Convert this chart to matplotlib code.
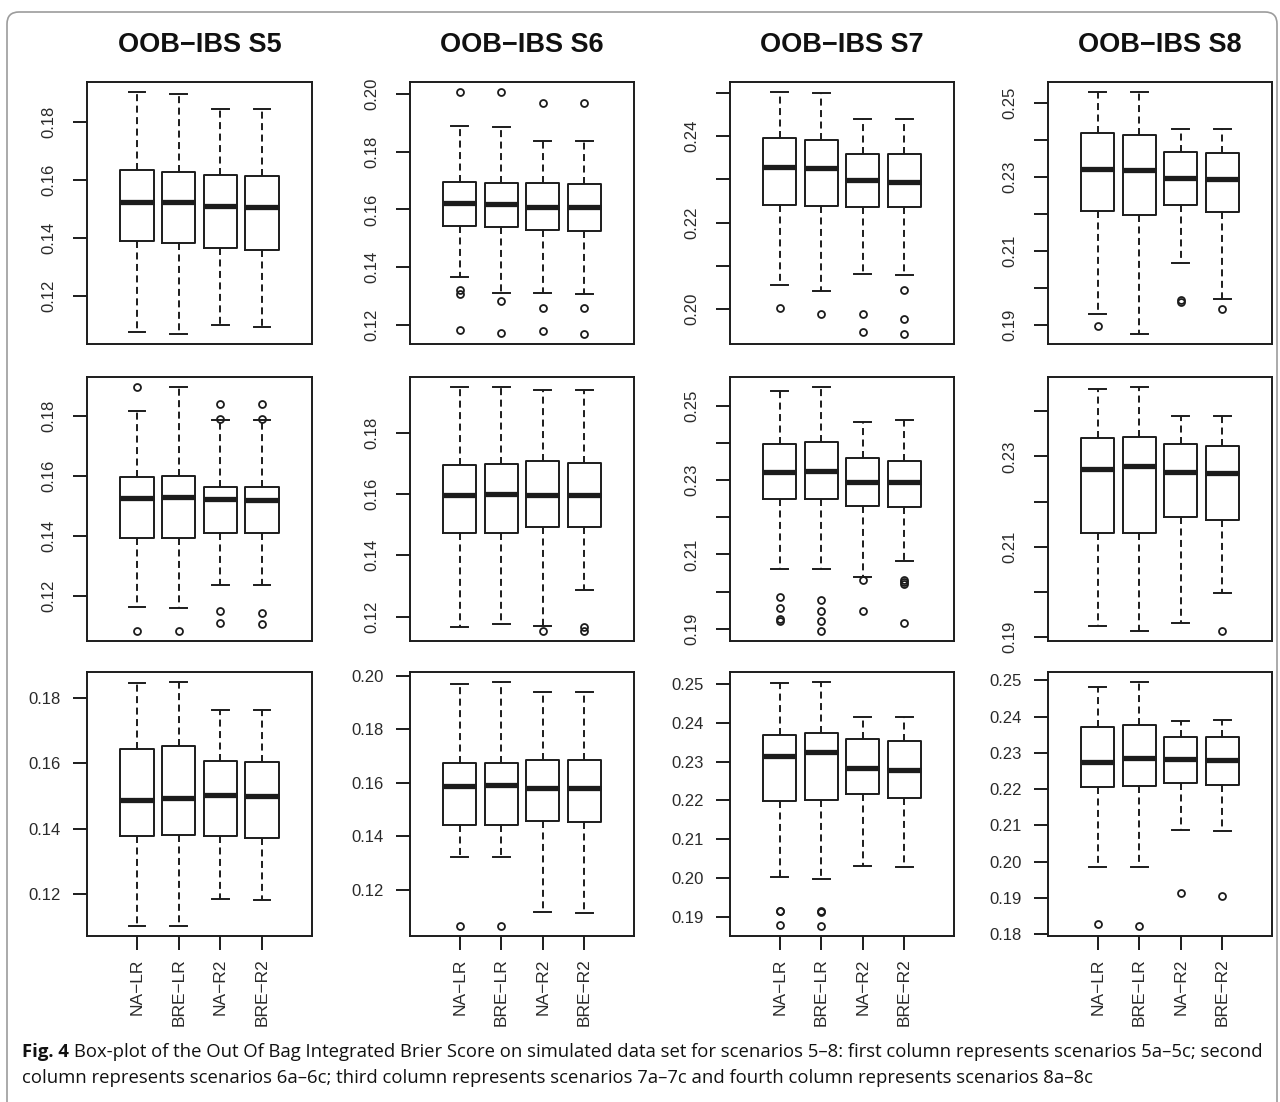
import matplotlib
matplotlib.use("Agg")
import matplotlib.pyplot as plt
from matplotlib.patches import FancyBboxPatch
from matplotlib.transforms import IdentityTransform

# ---------------- data ----------------
methods = ["NA−LR", "BRE−LR", "NA−R2", "BRE−R2"]
col_titles = ["OOB−IBS S5", "OOB−IBS S6", "OOB−IBS S7", "OOB−IBS S8"]

# scenario 5a
s5a_hi = [0.1905, 0.1897, 0.1846, 0.1846]
s5a_q3 = [0.1634, 0.1629, 0.1619, 0.1615]
s5a_med = [0.1526, 0.1526, 0.1511, 0.1509]
s5a_q1 = [0.1389, 0.1383, 0.1366, 0.1360]
s5a_lo = [0.1078, 0.1069, 0.1101, 0.1094]
s5a_out = [[], [], [], []]

# scenario 6a
s6a_hi = [0.1890, 0.1886, 0.1838, 0.1836]
s6a_q3 = [0.1695, 0.1692, 0.1691, 0.1688]
s6a_med = [0.1622, 0.1620, 0.1610, 0.1607]
s6a_q1 = [0.1543, 0.1539, 0.1529, 0.1525]
s6a_lo = [0.1365, 0.1310, 0.1310, 0.1306]
s6a_out = [[0.2009, 0.1321, 0.1307, 0.1180], [0.2009, 0.1281, 0.1169],
           [0.1971, 0.1257, 0.1177], [0.1971, 0.1257, 0.1166]]

# scenario 7a
s7a_hi = [0.2502, 0.2498, 0.2439, 0.2440]
s7a_q3 = [0.2396, 0.2391, 0.2359, 0.2359]
s7a_med = [0.2328, 0.2325, 0.2298, 0.2294]
s7a_q1 = [0.2241, 0.2238, 0.2237, 0.2237]
s7a_lo = [0.2055, 0.2042, 0.2081, 0.2078]
s7a_out = [[0.2002], [0.1989], [0.1989, 0.1948], [0.2045, 0.1977, 0.1942]]

# scenario 8a
s8a_hi = [0.2530, 0.2530, 0.2428, 0.2428]
s8a_q3 = [0.2419, 0.2412, 0.2367, 0.2365]
s8a_med = [0.2322, 0.2319, 0.2298, 0.2295]
s8a_q1 = [0.2209, 0.2196, 0.2223, 0.2205]
s8a_lo = [0.1931, 0.1875, 0.2068, 0.1971]
s8a_out = [[0.1897], [], [0.1967, 0.1962], [0.1944]]

# scenario 5b
s5b_hi = [0.1816, 0.1896, 0.1786, 0.1786]
s5b_q3 = [0.1596, 0.1599, 0.1563, 0.1563]
s5b_med = [0.1528, 0.1529, 0.1522, 0.1519]
s5b_q1 = [0.1394, 0.1394, 0.1410, 0.1410]
s5b_lo = [0.1166, 0.1162, 0.1236, 0.1236]
s5b_out = [[0.1896, 0.1084], [0.1084], [0.1838, 0.1788, 0.1150, 0.1110],
           [0.1838, 0.1788, 0.1146, 0.1108]]

# scenario 6b
s6b_hi = [0.1948, 0.1949, 0.1939, 0.1937]
s6b_q3 = [0.1695, 0.1698, 0.1708, 0.1702]
s6b_med = [0.1596, 0.1600, 0.1598, 0.1598]
s6b_q1 = [0.1472, 0.1474, 0.1492, 0.1492]
s6b_lo = [0.1168, 0.1175, 0.1170, 0.1287]
s6b_out = [[], [], [0.1153], [0.1167, 0.1153]]

# scenario 7b
s7b_hi = [0.2540, 0.2552, 0.2457, 0.2463]
s7b_q3 = [0.2399, 0.2402, 0.2359, 0.2353]
s7b_med = [0.2321, 0.2324, 0.2296, 0.2294]
s7b_q1 = [0.2249, 0.2249, 0.2230, 0.2228]
s7b_lo = [0.2061, 0.2061, 0.2039, 0.2082]
s7b_out = [[0.1984, 0.1955, 0.1926, 0.1920], [0.1978, 0.1947, 0.1920, 0.1893],
           [0.2030, 0.1947], [0.2032, 0.2026, 0.2021, 0.1916]]

# scenario 8b
s8b_hi = [0.2450, 0.2454, 0.2390, 0.2390]
s8b_q3 = [0.2341, 0.2343, 0.2327, 0.2322]
s8b_med = [0.2272, 0.2278, 0.2265, 0.2264]
s8b_q1 = [0.2131, 0.2131, 0.2165, 0.2160]
s8b_lo = [0.1924, 0.1913, 0.1931, 0.1997]
s8b_out = [[], [], [], [0.1914]]

# scenario 5c
s5c_hi = [0.1845, 0.1849, 0.1764, 0.1764]
s5c_q3 = [0.1642, 0.1651, 0.1607, 0.1602]
s5c_med = [0.1487, 0.1494, 0.1503, 0.1501]
s5c_q1 = [0.1377, 0.1379, 0.1376, 0.1371]
s5c_lo = [0.1103, 0.1101, 0.1185, 0.1182]
s5c_out = [[], [], [], []]

# scenario 6c
s6c_hi = [0.1970, 0.1978, 0.1940, 0.1940]
s6c_q3 = [0.1674, 0.1676, 0.1684, 0.1684]
s6c_med = [0.1589, 0.1593, 0.1581, 0.1581]
s6c_q1 = [0.1441, 0.1444, 0.1456, 0.1453]
s6c_lo = [0.1321, 0.1321, 0.1119, 0.1114]
s6c_out = [[0.1064], [0.1064], [], []]

# scenario 7c
s7c_hi = [0.2502, 0.2505, 0.2414, 0.2414]
s7c_q3 = [0.2369, 0.2374, 0.2357, 0.2354]
s7c_med = [0.2314, 0.2324, 0.2284, 0.2279]
s7c_q1 = [0.2198, 0.2202, 0.2216, 0.2206]
s7c_lo = [0.2003, 0.1999, 0.2032, 0.2029]
s7c_out = [[0.1917, 0.1915, 0.1879], [0.1915, 0.1913, 0.1877], [], []]

# scenario 8c
s8c_hi = [0.2482, 0.2496, 0.2389, 0.2391]
s8c_q3 = [0.2372, 0.2377, 0.2343, 0.2343]
s8c_med = [0.2276, 0.2286, 0.2282, 0.2279]
s8c_q1 = [0.2206, 0.2209, 0.2218, 0.2212]
s8c_lo = [0.1984, 0.1986, 0.2088, 0.2084]
s8c_out = [[0.1829], [0.1822], [0.1913], [0.1906]]

# y axis ticks and their labels ('' = tick without label)
s5a_ticks = [0.12, 0.14, 0.16, 0.18]
s5a_tlab = ["0.12", "0.14", "0.16", "0.18"]
s6a_ticks = [0.12, 0.14, 0.16, 0.18, 0.20]
s6a_tlab = ["0.12", "0.14", "0.16", "0.18", "0.20"]
s7a_ticks = [0.20, 0.21, 0.22, 0.23, 0.24, 0.25]
s7a_tlab = ["0.20", "", "0.22", "", "0.24", ""]
s8a_ticks = [0.19, 0.20, 0.21, 0.22, 0.23, 0.24, 0.25]
s8a_tlab = ["0.19", "", "0.21", "", "0.23", "", "0.25"]
s5b_ticks = [0.12, 0.14, 0.16, 0.18]
s5b_tlab = ["0.12", "0.14", "0.16", "0.18"]
s6b_ticks = [0.12, 0.14, 0.16, 0.18]
s6b_tlab = ["0.12", "0.14", "0.16", "0.18"]
s7b_ticks = [0.19, 0.20, 0.21, 0.22, 0.23, 0.24, 0.25]
s7b_tlab = ["0.19", "", "0.21", "", "0.23", "", "0.25"]
s8b_ticks = [0.19, 0.20, 0.21, 0.22, 0.23, 0.24]
s8b_tlab = ["0.19", "", "0.21", "", "0.23", ""]
s5c_ticks = [0.12, 0.14, 0.16, 0.18]
s5c_tlab = ["0.12", "0.14", "0.16", "0.18"]
s6c_ticks = [0.12, 0.14, 0.16, 0.18, 0.20]
s6c_tlab = ["0.12", "0.14", "0.16", "0.18", "0.20"]
s7c_ticks = [0.19, 0.20, 0.21, 0.22, 0.23, 0.24, 0.25]
s7c_tlab = ["0.19", "0.20", "0.21", "0.22", "0.23", "0.24", "0.25"]
s8c_ticks = [0.18, 0.19, 0.20, 0.21, 0.22, 0.23, 0.24, 0.25]
s8c_tlab = ["0.18", "0.19", "0.20", "0.21", "0.22", "0.23", "0.24", "0.25"]

caption_head = "Fig. 4"
caption_line1 = ("Box-plot of the Out Of Bag Integrated Brier Score on simulated data set for "
                 "scenarios 5–8: first column represents scenarios 5a–5c; second")
caption_line2 = ("column represents scenarios 6a–6c; third column represents scenarios 7a–7c "
                 "and fourth column represents scenarios 8a–8c")

panels = [
    [(s5a_lo, s5a_q1, s5a_med, s5a_q3, s5a_hi, s5a_out, s5a_ticks, s5a_tlab),
     (s6a_lo, s6a_q1, s6a_med, s6a_q3, s6a_hi, s6a_out, s6a_ticks, s6a_tlab),
     (s7a_lo, s7a_q1, s7a_med, s7a_q3, s7a_hi, s7a_out, s7a_ticks, s7a_tlab),
     (s8a_lo, s8a_q1, s8a_med, s8a_q3, s8a_hi, s8a_out, s8a_ticks, s8a_tlab)],
    [(s5b_lo, s5b_q1, s5b_med, s5b_q3, s5b_hi, s5b_out, s5b_ticks, s5b_tlab),
     (s6b_lo, s6b_q1, s6b_med, s6b_q3, s6b_hi, s6b_out, s6b_ticks, s6b_tlab),
     (s7b_lo, s7b_q1, s7b_med, s7b_q3, s7b_hi, s7b_out, s7b_ticks, s7b_tlab),
     (s8b_lo, s8b_q1, s8b_med, s8b_q3, s8b_hi, s8b_out, s8b_ticks, s8b_tlab)],
    [(s5c_lo, s5c_q1, s5c_med, s5c_q3, s5c_hi, s5c_out, s5c_ticks, s5c_tlab),
     (s6c_lo, s6c_q1, s6c_med, s6c_q3, s6c_hi, s6c_out, s6c_ticks, s6c_tlab),
     (s7c_lo, s7c_q1, s7c_med, s7c_q3, s7c_hi, s7c_out, s7c_ticks, s7c_tlab),
     (s8c_lo, s8c_q1, s8c_med, s8c_q3, s8c_hi, s8c_out, s8c_ticks, s8c_tlab)],
]

# ---------------- figure ----------------
W, H = 1280, 1102
DPI = 100
INK = "#1c1c1c"
plt.rcParams["font.family"] = ["Liberation Sans", "DejaVu Sans"]

fig = plt.figure(figsize=(W / DPI, H / DPI), dpi=DPI)
fig.patch.set_facecolor("white")

col_left = [87, 410, 730, 1048]
col_right = [312, 634, 954, 1272]
row_top = [82, 377, 672]
row_bot = [344, 641, 936]

LW = 1.4
box_kw = dict(
    positions=[1, 2, 3, 4], widths=0.8, capwidths=0.4, showfliers=True,
    boxprops=dict(color=INK, lw=LW),
    whiskerprops=dict(color=INK, lw=LW, linestyle=(0, (3.6, 2.3))),
    capprops=dict(color=INK, lw=LW),
    medianprops=dict(color=INK, lw=3.8, solid_capstyle="butt"),
    flierprops=dict(marker="o", markerfacecolor="none", markeredgecolor=INK,
                    markersize=5.0, markeredgewidth=1.3, linestyle="none"),
)

for r in range(3):
    for c in range(4):
        lo, q1, med, q3, hi, out, ticks, tlab = panels[r][c]
        left = col_left[c] / W
        bottom = 1 - row_bot[r] / H
        width = (col_right[c] - col_left[c]) / W
        height = (row_bot[r] - row_top[r]) / H
        ax = fig.add_axes([left, bottom, width, height])
        stats = [dict(whislo=lo[i], q1=q1[i], med=med[i], q3=q3[i],
                      whishi=hi[i], fliers=out[i]) for i in range(4)]
        ax.bxp(stats, **box_kw)

        # R-style 4% range extension
        vals = lo + hi + [v for o in out for v in o]
        vmin, vmax = min(vals), max(vals)
        pad = 0.04 * (vmax - vmin)
        ax.set_ylim(vmin - pad, vmax + pad)
        ax.set_xlim(-0.2, 5.2)

        for sp in ax.spines.values():
            sp.set_linewidth(LW)
            sp.set_color(INK)

        ax.set_yticks(ticks)
        ax.set_yticklabels(tlab)
        if r < 2:
            ax.tick_params(axis="y", direction="out", length=10, width=LW,
                           color=INK, labelsize=12, labelcolor="#2a2a2a",
                           pad=12, labelrotation=90)
            for t in ax.get_yticklabels():
                t.set_verticalalignment("center")
            ax.set_xticks([])
        else:
            ax.tick_params(axis="y", direction="out", length=10, width=LW,
                           color=INK, labelsize=12, labelcolor="#2a2a2a", pad=9)
            ax.set_xticks([1, 2, 3, 4])
            ax.set_xticklabels(methods, rotation=90)
            ax.tick_params(axis="x", direction="out", length=10, width=LW,
                           color=INK, labelsize=12.5, labelcolor="#2a2a2a", pad=6)

        if r == 0:
            xc = (col_left[c] + col_right[c]) / 2 / W
            fig.text(xc, 1 - 45 / H, col_titles[c], ha="center", va="center",
                     fontsize=19.5, fontweight="bold", color="#111111")

# caption: bold lead-in followed by two lines of plain text
cap_font = ["Open Sans", "DejaVu Sans"]
cap_size = 11.6
x0 = 22 / W
y1 = 1 - 1057 / H
y2 = 1 - 1083 / H
renderer = fig.canvas.get_renderer()
head = fig.text(x0, y1, caption_head, fontsize=cap_size, fontweight="bold",
                family=cap_font, color="#111111", va="baseline")
bb = head.get_window_extent(renderer=renderer)
body1 = fig.text((bb.x1 + 5) / W, y1, caption_line1, fontsize=cap_size,
                 family=cap_font, color="#111111", va="baseline")
body2 = fig.text(x0, y2, caption_line2, fontsize=cap_size,
                 family=cap_font, color="#111111", va="baseline")
# fit the first line to the text block width
right_px = 1262
ext = body1.get_window_extent(renderer=renderer)
scale = (right_px - 22) / (ext.x1 - 22)
new_size = cap_size * scale
for t in (head, body1, body2):
    t.set_fontsize(new_size)
bb = head.get_window_extent(renderer=renderer)
body1.set_x((bb.x1 + 5) / W)

# rounded outer frame
frame = FancyBboxPatch((7, -30), W - 10, H - 12 + 30,
                       boxstyle="round,pad=0,rounding_size=12",
                       transform=IdentityTransform(), fill=False,
                       edgecolor="#9c9c9c", linewidth=1.2)
fig.add_artist(frame)

fig.savefig("out.png", dpi=DPI, facecolor="white")
